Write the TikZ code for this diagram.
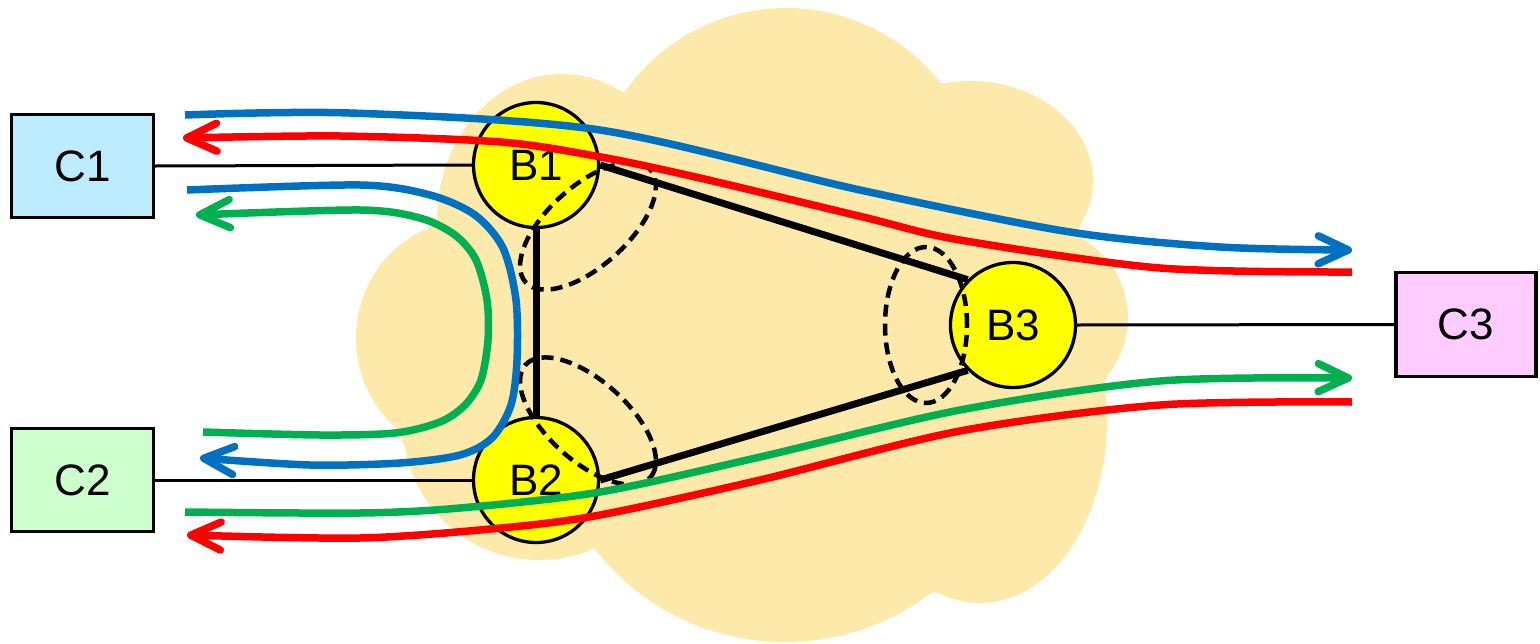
\documentclass[tikz,border=0pt]{standalone}
\usepackage{fontspec}
\setmainfont{Liberation Sans}
\usetikzlibrary{arrows.meta}
\definecolor{cloudc}{RGB}{253,233,170}
\definecolor{cOne}{RGB}{189,235,255}
\definecolor{cTwo}{RGB}{204,255,204}
\definecolor{cThree}{RGB}{255,204,255}
\definecolor{byellow}{RGB}{255,255,0}
\definecolor{fblue}{RGB}{0,112,192}
\definecolor{fred}{RGB}{255,0,0}
\definecolor{fgreen}{RGB}{0,176,80}
\begin{document}
\begin{tikzpicture}[x=1pt,y=-1pt,
  cbox/.style={draw, rectangle, line width=3.3pt, inner sep=0pt, font=\fontsize{44}{50}\selectfont},
  bnode/.style={draw, circle, line width=3.3pt, fill=byellow, minimum size=125pt, inner sep=0pt, font=\fontsize{44}{50}\selectfont},
  thinlink/.style={line width=3pt},
  thicklink/.style={line width=7pt},
  anglemark/.style={line width=4.5pt, dash pattern=on 12pt off 7pt},
  flow/.style={line width=7.5pt, -{Straight Barb[length=30pt,width=28pt,round]}},
]
\useasboundingbox (0,0) rectangle (1540,643);

% cloud
\begin{scope}[fill=cloudc]
\fill (786,205) circle[radius=197pt];
\fill (562,220) ellipse[x radius=125pt, y radius=146pt];
\fill (470,338) ellipse[x radius=114pt, y radius=118pt];
\fill (539,424) circle[radius=136pt];
\fill (785,415) ellipse[x radius=235pt, y radius=227pt];
\fill (980,420) ellipse[x radius=127pt, y radius=183pt];
\fill (1022,318) ellipse[x radius=106pt, y radius=97pt];
\fill (970,181) ellipse[x radius=123pt, y radius=100pt];
\fill (437,233) -- (628,90) -- (944,83) -- (1078,233) -- (1107,378) -- (939,593) -- (601,550) -- (405,447) -- (356,330) -- cycle;
\end{scope}

% nodes
\node[cbox, fill=cOne, minimum width=142pt, minimum height=103pt] (C1) at (82.5,166) {C1};
\node[cbox, fill=cTwo, minimum width=142pt, minimum height=103pt] (C2) at (82.5,480) {C2};
\node[cbox, fill=cThree, minimum width=140pt, minimum height=104pt] (C3) at (1466,324.5) {C3};
\node[bnode] (B1) at (536,165) {B1};
\node[bnode] (B2) at (536,480) {B2};
\node[bnode] (B3) at (1013,325) {B3};

% links
\draw[thinlink] (C1.east) -- (B1.west);
\draw[thinlink] (C2.east) -- (B2.west);
\draw[thinlink] (B3.east) -- (C3.west);
\draw[thicklink] (B1.south) -- (B2.north);
\draw[thicklink] (B1.east) -- (B3.135);
\draw[thicklink] (B2.east) -- (B3.225);

% angle marks
\coordinate (m1) at (588,226);
\coordinate (m2) at (588,421);
\coordinate (m3) at (926,325);
\draw[anglemark, rotate around={42:(m1)}] (m1) ellipse[x radius=84pt, y radius=40pt];
\draw[anglemark, rotate around={-42:(m2)}] (m2) ellipse[x radius=84pt, y radius=40pt];
\draw[anglemark] (m3) ellipse[x radius=41pt, y radius=78pt];

% flows
\coordinate (bTs) at (185,115);
\coordinate (bTe) at (1352,250);
\coordinate (rTs) at (1352,272);
\coordinate (rTe) at (183,138);
\coordinate (bUs) at (187,190);
\coordinate (bUe) at (200,458);
\coordinate (gUs) at (203,432);
\coordinate (gUe) at (196,215);
\coordinate (gBs) at (185,512);
\coordinate (gBe) at (1352,378);
\coordinate (rBs) at (1352,402);
\coordinate (rBe) at (187,535);

\draw[flow, fblue] plot[smooth] coordinates {(bTs) (350,113) (600,130) (860,190) (1070,232) (1220,247) (bTe)};
\draw[flow, fred] plot[smooth] coordinates {(rTs) (1160,268) (960,240) (863,217) (700,178) (601,157) (501,142) (340,136) (rTe)};
\draw[flow, fblue] plot[smooth] coordinates {(bUs) (360,185) (430,195) (475,215) (503,248) (516,300) (517,360) (511,405) (492,438) (460,455) (400,463) (310,465) (bUe)};
\draw[flow, fgreen] plot[smooth] coordinates {(gUs) (320,435) (395,433) (440,422) (465,405) (481,380) (488,340) (487,300) (476,260) (455,235) (420,218) (360,210) (gUe)};
\draw[flow, fgreen] plot[smooth] coordinates {(gBs) (360,513) (460,508) (600,492) (760,457) (960,410) (1160,381) (gBe)};
\draw[flow, fred] plot[smooth] coordinates {(rBs) (1160,405) (960,431) (760,480) (600,515) (501,528) (360,538) (rBe)};
\end{tikzpicture}
\end{document}
